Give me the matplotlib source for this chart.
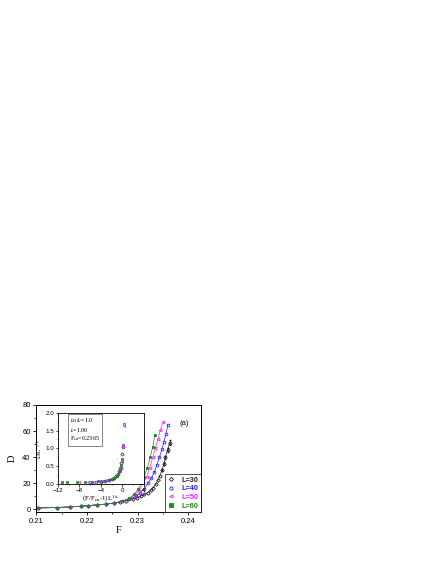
import numpy as np
import matplotlib.pyplot as plt
from matplotlib.ticker import MultipleLocator

# main panel: D versus F for four sizes
F30 = [0.2103, 0.2141, 0.2167, 0.2189, 0.2202, 0.2220, 0.2238, 0.2254, 0.2266, 0.2278,
       0.2290, 0.2298, 0.2306, 0.2313, 0.2320, 0.2326, 0.2331, 0.2336, 0.2340, 0.2344,
       0.2348, 0.2352, 0.2355, 0.2359, 0.2363]
D30 = [1.2, 1.5, 2.0, 2.5, 3.0, 3.5, 4.2, 5.0, 5.8, 6.8,
       8.0, 9.0, 10.2, 11.5, 13.0, 14.8, 16.8, 19.5, 22.5, 26.0,
       30.0, 35.0, 40.0, 45.5, 51.0]
F40 = [0.2103, 0.2141, 0.2167, 0.2189, 0.2202, 0.2220, 0.2238, 0.2254, 0.2270, 0.2284,
       0.2296, 0.2305, 0.2313, 0.2320, 0.2327, 0.2333, 0.2338, 0.2343, 0.2348, 0.2352,
       0.2356, 0.2360]
D40 = [1.2, 1.5, 2.0, 2.5, 3.0, 3.5, 4.2, 5.0, 6.2, 7.8,
       10.0, 12.5, 16.0, 20.0, 24.0, 28.5, 34.0, 40.0, 46.0, 52.0,
       58.0, 65.0]
F50 = [0.2103, 0.2141, 0.2167, 0.2189, 0.2202, 0.2220, 0.2238, 0.2254, 0.2270, 0.2283,
       0.2294, 0.2303, 0.2311, 0.2318, 0.2324, 0.2330, 0.2335, 0.2340, 0.2345, 0.2350]
D50 = [1.2, 1.5, 2.0, 2.5, 3.0, 3.5, 4.2, 5.0, 6.4, 8.2,
       10.8, 14.5, 20.0, 25.0, 32.0, 40.0, 47.0, 54.0, 61.0, 67.0]
F60 = [0.2103, 0.2141, 0.2167, 0.2189, 0.2202, 0.2220, 0.2238, 0.2254, 0.2270, 0.2283,
       0.2293, 0.2301, 0.2307, 0.2313, 0.2319, 0.2325, 0.2330, 0.2334]
D60 = [1.2, 1.5, 2.0, 2.5, 3.0, 3.5, 4.2, 5.0, 6.5, 8.6,
       11.5, 15.5, 20.0, 25.0, 32.0, 40.0, 48.0, 57.0]
E30 = [0.8, 1.0, 1.2, 1.5, 1.8]  # error bars on the last black points

# inset: scaling collapse
X30 = [-4.0, -3.2, -2.5, -2.0, -1.6, -1.2, -0.9, -0.6, -0.4, -0.2, 0.0, 0.1]
Y30 = [0.06, 0.08, 0.10, 0.13, 0.16, 0.21, 0.27, 0.36, 0.45, 0.60, 0.85, 1.05]
X40 = [-6.0, -5.0, -4.0, -3.2, -2.5, -2.0, -1.5, -1.1, -0.8, -0.5, -0.3, -0.1, 0.1, 0.3]
Y40 = [0.05, 0.06, 0.07, 0.08, 0.10, 0.13, 0.17, 0.22, 0.28, 0.36, 0.46, 0.65, 1.10, 1.68]
X50 = [-8.0, -6.5, -5.2, -4.2, -3.3, -2.6, -2.0, -1.5, -1.1, -0.8, -0.5, -0.3, -0.1, 0.1, 0.3]
Y50 = [0.04, 0.05, 0.06, 0.07, 0.08, 0.10, 0.13, 0.17, 0.22, 0.28, 0.36, 0.46, 0.65, 1.05, 1.62]
X60 = [-11.2, -10.3, -8.5, -7.0, -5.6, -4.5, -3.5, -2.7, -2.0, -1.5, -1.1, -0.8, -0.5, -0.3, -0.1]
Y60 = [0.04, 0.04, 0.05, 0.05, 0.06, 0.07, 0.08, 0.10, 0.13, 0.17, 0.22, 0.28, 0.38, 0.52, 0.70]

sizes = ['L=30', 'L=40', 'L=50', 'L=60']
colors = ['#222222', '#2020ff', '#ff20ff', '#1a8c1a']
markers = ['D', 'o', '<', 's']
fills = ['none', 'none', 'none', 'full']

plt.rcParams['font.family'] = ['Liberation Sans', 'DejaVu Sans']
plt.rcParams['mathtext.fontset'] = 'stix'
fig = plt.figure(figsize=(4.36, 5.64), dpi=100)
ax = fig.add_axes([0.083, 0.092, 0.378, 0.190])

mains = [(F30, D30), (F40, D40), (F50, D50), (F60, D60)]
for (f, d), lab, c, m, fl in zip(mains, sizes, colors, markers, fills):
    mfc = c if fl == 'full' else 'none'
    ms = 2.0 if m != 'D' else 1.8
    ax.plot(f, d, '-', color=c, lw=0.5, marker=m, ms=ms, mfc=mfc, mec=c, mew=0.6,
            label=lab)
ax.errorbar(F30[-5:], D30[-5:], yerr=E30, fmt='none',
            ecolor=colors[0], elinewidth=0.5, capsize=0.8)

ax.set_xlim(0.21, 0.2425)
ax.set_ylim(-2, 80)
ax.set_xticks([0.21, 0.22, 0.23, 0.24])
ax.set_yticks([0, 20, 40, 60, 80])
ax.xaxis.set_minor_locator(MultipleLocator(0.005))
ax.yaxis.set_minor_locator(MultipleLocator(10))
ax.tick_params(labelsize=5.5, length=2.5, width=0.6, pad=1.5)
ax.tick_params(which='minor', length=1.5, width=0.5)
for s in ax.spines.values():
    s.set_linewidth(0.7)
ax.set_xlabel('F', family='Liberation Serif', fontsize=7.5, labelpad=1)
ax.set_ylabel('D', family='Liberation Serif', fontsize=7.5, labelpad=4)
ax.text(0.87, 0.81, '(a)', transform=ax.transAxes, fontsize=5.5)

leg = ax.legend(loc='lower right', prop={'size': 5.3, 'weight': 'bold'}, frameon=True,
                fancybox=False, edgecolor='black', handlelength=1.0, handletextpad=0.9,
                borderpad=0.35, labelspacing=0.2, borderaxespad=0.0, markerscale=1.15)
leg.get_frame().set_linewidth(0.6)
for t, c in zip(leg.get_texts(), colors):
    t.set_color(c)
for h in leg.legend_handles:
    h.set_linestyle('none')

# inset
ins = fig.add_axes([0.133, 0.142, 0.197, 0.126])
coll = [(X30, Y30), (X40, Y40), (X50, Y50), (X60, Y60)]
for (x, y), c, m, fl in zip(coll, colors, markers, fills):
    mfc = c if fl == 'full' else 'none'
    ins.plot(x, y, ls='none', marker=m, ms=1.7, mfc=mfc, mec=c, mew=0.5)
ins.set_xlim(-12, 4)
ins.set_ylim(0, 2.0)
ins.set_xticks([-12, -8, -4, 0, 4])
ins.set_yticks([0.0, 0.5, 1.0, 1.5, 2.0])
ins.set_yticklabels(['0.0', '0.5', '1.0', '1.5', '2.0'])
ins.xaxis.set_minor_locator(MultipleLocator(2))
ins.yaxis.set_minor_locator(MultipleLocator(0.25))
ins.tick_params(labelsize=4.5, length=1.8, width=0.5, pad=1)
ins.tick_params(which='minor', length=1.0, width=0.4)
for s in ins.spines.values():
    s.set_linewidth(0.6)
ins.set_xlabel(r'(F/F$_{\rm cn}$-1)L$^{1/\nu}$', family='Liberation Serif', fontsize=5, labelpad=0.5)
ins.set_ylabel(r'DL$^{-z/\nu}$', family='Liberation Serif', fontsize=5, labelpad=1)
ins.text(0.14, 0.61, '$\\nu_{\\rm D}/\\nu$=1.0\n$\\nu$=1.06\nF$_{\\rm cn}$=0.2365',
         transform=ins.transAxes, fontsize=4.4, family='Liberation Serif', linespacing=1.15,
         bbox=dict(boxstyle='square,pad=0.35', fc='white', ec='#555555', lw=0.5))

fig.savefig('out.png', dpi=100)
